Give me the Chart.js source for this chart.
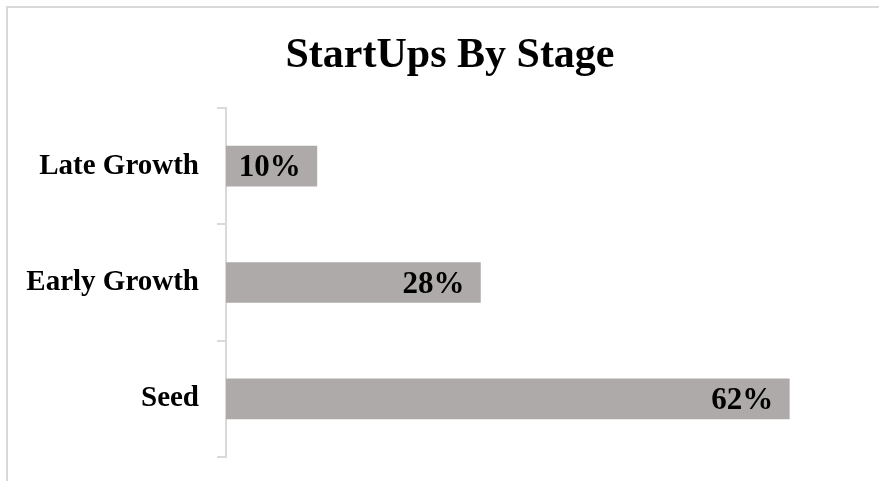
<!DOCTYPE html>
<html>
<head>
<meta charset="utf-8">
<script src="https://cdn.jsdelivr.net/npm/chart.js@4/dist/chart.umd.min.js"></script>
<style>
    body { margin: 0; background: #fff; overflow: hidden; }
    #frame { position: absolute; left: 6px; top: 6px; width: 2000px; height: 2000px;
             border-left: 2px solid #d9d9d9; border-top: 2px solid #d9d9d9; }
    #wrap { position: absolute; left: 0; top: 0; width: 879px; height: 481px; }
</style>
</head>
<body>
<div id="frame"></div>
<div id="wrap"><canvas id="StageChart"></canvas></div>
<script>
// Chart data
const stages = ['Late Growth', 'Early Growth', 'Seed'];
const shares = [10, 28, 62];
const shareLabels = ['10%', '28%', '62%'];
const chartTitle = 'StartUps By Stage';

const serif = '"Liberation Serif", "Times New Roman", serif';

// Draws the percentage inside the end of each bar, and the title
const barLabels = {
    id: 'barLabels',
    afterDatasetsDraw(chart) {
        const ctx = chart.ctx;
        const meta = chart.getDatasetMeta(0);
        ctx.save();
        ctx.font = 'bold 31px ' + serif;
        ctx.fillStyle = '#000';
        ctx.textAlign = 'right';
        ctx.textBaseline = 'middle';
        meta.data.forEach((bar, i) => {
            ctx.fillText(shareLabels[i], bar.x - 16, bar.y + 2);
        });
        // title (centred a bit right of the canvas middle, like the original)
        ctx.font = 'bold 42px ' + serif;
        ctx.textAlign = 'center';
        ctx.textBaseline = 'alphabetic';
        ctx.fillText(chartTitle, 450, 67);
        ctx.restore();
    }
};

const ctx = document.getElementById('StageChart').getContext('2d');
new Chart(ctx, {
    type: 'bar',
    data: {
        labels: stages,
        datasets: [{
            data: shares,
            backgroundColor: '#adaaa9',
            barThickness: 40
        }]
    },
    options: {
        indexAxis: 'y',
        responsive: true,
        maintainAspectRatio: false,
        animation: false,
        layout: { padding: { left: 0, right: 17, top: 108, bottom: 24 } },
        plugins: {
            legend: { display: false },
            tooltip: { enabled: false },
            title: { display: false }
        },
        scales: {
            x: { display: false, min: 0, max: 70 },
            y: {
                afterFit(scale) {
                    scale.width = 226;
                    // labels sit inside the bands, no extra room needed
                    scale.paddingTop = 0;
                    scale.paddingBottom = 0;
                },
                border: { display: true, color: '#d9d9d9', width: 2 },
                grid: {
                    offset: true,
                    drawOnChartArea: false,
                    drawTicks: true,
                    tickLength: 9,
                    color: '#d9d9d9',
                    lineWidth: 2
                },
                ticks: {
                    color: '#000',
                    padding: 18,
                    font: { family: serif, size: 29, weight: 'bold' }
                }
            }
        }
    },
    plugins: [barLabels]
});
</script>
</body>
</html>
